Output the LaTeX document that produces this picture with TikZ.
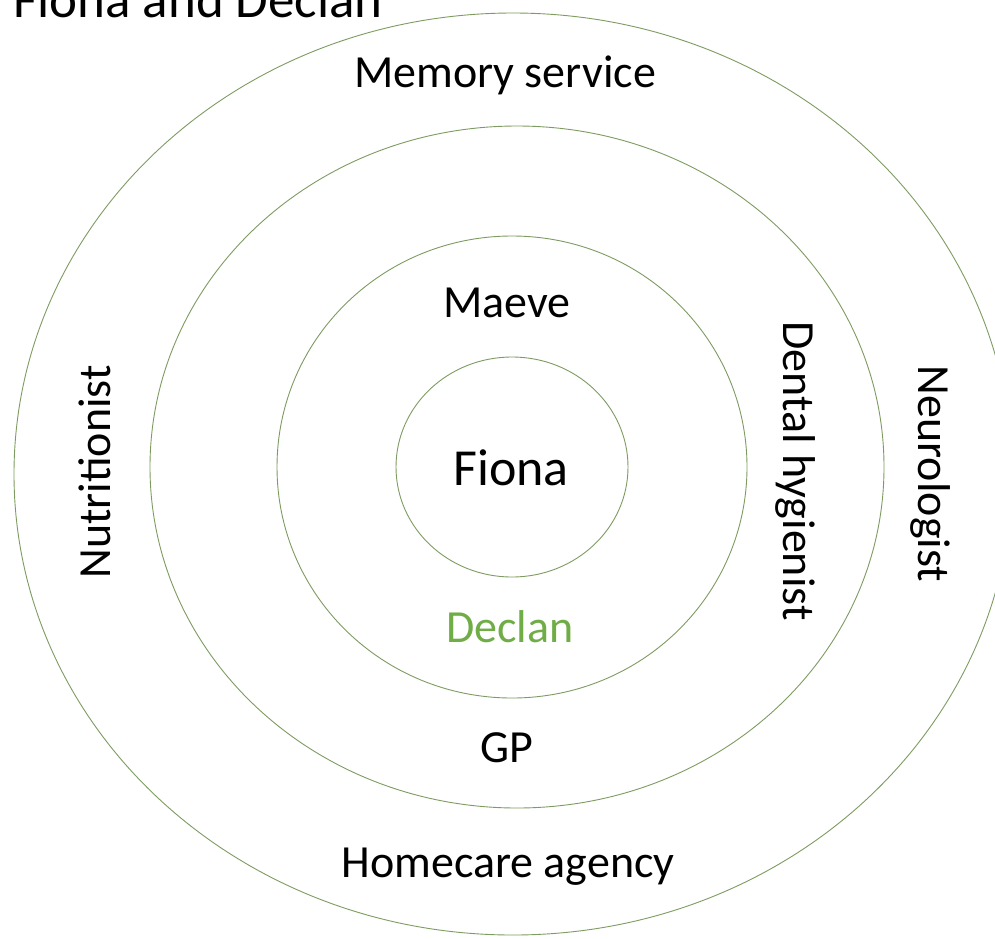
\documentclass[tikz,border=0pt]{standalone}
\usepackage{fontspec}
\setmainfont{Carlito}
\definecolor{ringline}{HTML}{7E9C62}
\definecolor{accentgreen}{HTML}{70AD47}
\begin{document}
\begin{tikzpicture}[x=1pt,y=-1pt,
  ring/.style={draw=ringline,line width=0.9pt},
  lbl/.style={inner sep=0pt,anchor=base,text=black,font=\fontsize{46}{50}\selectfont},
  centrelbl/.style={inner sep=0pt,anchor=base,text=black,font=\fontsize{52}{56}\selectfont},
  titlelbl/.style={inner sep=0pt,anchor=base east,text=black,font=\fontsize{53}{58}\selectfont}]
  \useasboundingbox (0,0) rectangle (995,938);
  \clip (0,0) rectangle (995,938);
  \fill[white] (0,0) rectangle (995,938);

  % centres of the rings
  \coordinate (c) at (512,467);
  \coordinate (c3) at (517,467);
  \coordinate (c4) at (513,474);

  % concentric rings, innermost first
  \draw[ring] (c) ellipse [x radius=116, y radius=110];
  \draw[ring] (c) ellipse [x radius=235, y radius=231];
  \draw[ring] (c3) ellipse [x radius=367, y radius=341];
  \draw[ring] (c4) ellipse [x radius=499, y radius=461];

  % heading, running off the top edge
  \node[titlelbl] (title) at (383,17) {: Fiona and Declan};

  % labels
  \node[centrelbl] (fiona) at (511,485) {Fiona};
  \node[lbl] (maeve) at (507,317) {Maeve};
  \node[lbl,text=accentgreen] (declan) at (510,642) {Declan};
  \node[lbl] (gp) at (507,762) {GP};
  \node[lbl] (memory) at (505,87) {Memory service};
  \node[lbl] (homecare) at (508,877) {Homecare agency};
  \node[lbl,rotate=90] (nutri) at (110,472) {Nutritionist};
  \node[lbl,rotate=-90] (dental) at (783,471) {Dental hygienist};
  \node[lbl,rotate=-90] (neuro) at (918,474) {Neurologist};
\end{tikzpicture}
\end{document}
